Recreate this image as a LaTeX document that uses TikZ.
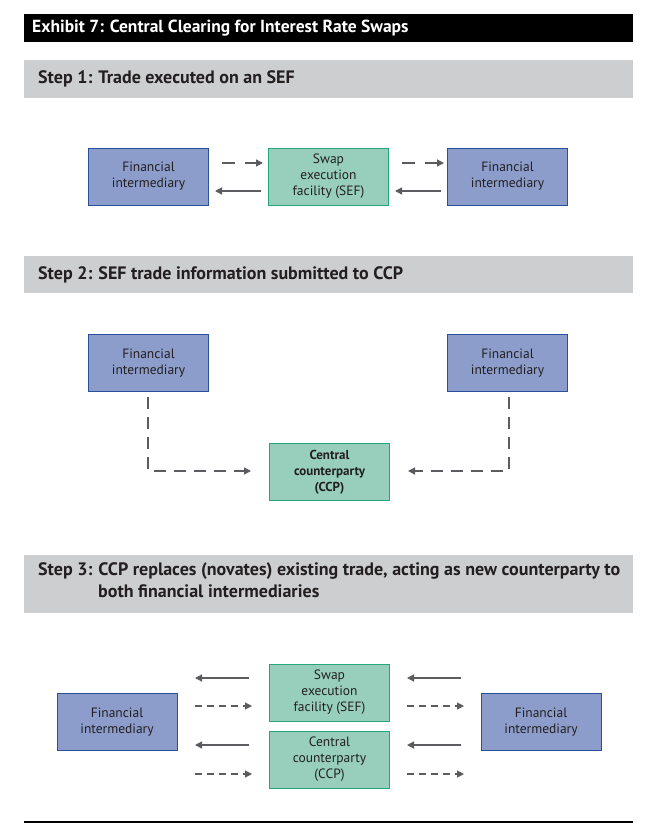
\documentclass[tikz,border=0pt]{standalone}
\usepackage{fontspec}
\setmainfont{PT Sans}
\usetikzlibrary{arrows.meta}
\definecolor{fiFill}{HTML}{8C9DCB}
\definecolor{fiLine}{HTML}{2C4F9C}
\definecolor{gFill}{HTML}{97CFBC}
\definecolor{gLine}{HTML}{27A57B}
\definecolor{barGray}{HTML}{CDCECF}
\definecolor{arrGray}{HTML}{5B5C5F}
\definecolor{txt}{HTML}{231F20}
\begin{document}
\begin{tikzpicture}[x=1pt,y=-1pt,
  fibox/.style={draw=fiLine, fill=fiFill, line width=1pt, minimum width=120pt, minimum height=57pt, align=center, inner sep=0pt, text=txt, font=\fontsize{13.5}{16}\selectfont},
  gbox/.style={fibox, draw=gLine, fill=gFill},
  solidarr/.style={draw=arrGray, line width=1.3pt, -{Triangle[length=7pt,width=7pt]}},
  dasharr/.style={solidarr, dash pattern=on 13pt off 10pt},
  vdash/.style={solidarr, dash pattern=on 12pt off 8pt},
  shortdash/.style={solidarr, dash pattern=on 7pt off 5pt},
  bartext/.style={anchor=west, inner sep=0pt, text=txt, font=\bfseries\fontsize{18}{22}\selectfont, align=left},
]
\useasboundingbox (0,0) rectangle (664,838);
% header
\fill[black] (24,14) rectangle (633,42);
\node[anchor=west, inner sep=0pt, text=white, font=\bfseries\fontsize{17.5}{20}\selectfont] (hdr) at (32,28) {Exhibit 7: Central Clearing for Interest Rate Swaps};

% step 1
\fill[barGray] (24,60) rectangle (633,98);
\node[bartext] (t1) at (38,79) {Step 1: Trade executed on an SEF};
\node[fibox] (fi1L) at (148.5,176.5) {Financial\\intermediary};
\node[gbox] (sef1) at (328.5,176.5) {Swap\\execution\\facility (SEF)};
\node[fibox] (fi1R) at (507.5,176.5) {Financial\\intermediary};
\coordinate (a1) at (222,163); \coordinate (a2) at (263,163);
\coordinate (a3) at (261,191); \coordinate (a4) at (215,191);
\coordinate (a5) at (402,163); \coordinate (a6) at (444,163);
\coordinate (a7) at (441,191); \coordinate (a8) at (395,191);
\draw[dasharr] (a1) -- (a2);
\draw[solidarr] (a3) -- (a4);
\draw[dasharr] (a5) -- (a6);
\draw[solidarr] (a7) -- (a8);

% step 2
\fill[barGray] (24,256) rectangle (633,293);
\node[bartext] (t2) at (38,274.5) {Step 2: SEF trade information submitted to CCP};
\node[fibox] (fi2L) at (148.5,363) {Financial\\intermediary};
\node[fibox] (fi2R) at (507.5,363) {Financial\\intermediary};
\node[gbox, font=\bfseries\fontsize{13}{16}\selectfont] (ccp2) at (329.5,472) {Central\\counterparty\\(CCP)};
\coordinate (b1) at (148,397); \coordinate (b2) at (251,471);
\coordinate (b3) at (509,397); \coordinate (b4) at (408,471);
\draw[vdash] (b1) |- (b2);
\draw[vdash] (b3) |- (b4);

% step 3
\fill[barGray] (24,555) rectangle (633,613);
\node[bartext, anchor=north west] (t3) at (38,562) {Step 3: CCP replaces (novates) existing trade, acting as new counterparty to\\\hspace*{60pt}both financial intermediaries};
\node[gbox] (sef3) at (329.5,692.5) {Swap\\execution\\facility (SEF)};
\node[gbox] (ccp3) at (329.5,759.5) {Central\\counterparty\\(CCP)};
\node[fibox] (fi3L) at (117,722) {Financial\\intermediary};
\node[fibox] (fi3R) at (541,722) {Financial\\intermediary};
\coordinate (c1) at (249,678); \coordinate (c2) at (195,678);
\coordinate (c3) at (195,706); \coordinate (c4) at (252,706);
\coordinate (c5) at (249,745); \coordinate (c6) at (195,745);
\coordinate (c7) at (195,774); \coordinate (c8) at (252,774);
\draw[solidarr] (c1) -- (c2);
\draw[shortdash] (c3) -- (c4);
\draw[solidarr] (c5) -- (c6);
\draw[shortdash] (c7) -- (c8);
\coordinate (d1) at (461,678); \coordinate (d2) at (407,678);
\coordinate (d3) at (407,706); \coordinate (d4) at (464,706);
\coordinate (d5) at (461,745); \coordinate (d6) at (407,745);
\coordinate (d7) at (407,774); \coordinate (d8) at (464,774);
\draw[solidarr] (d1) -- (d2);
\draw[shortdash] (d3) -- (d4);
\draw[solidarr] (d5) -- (d6);
\draw[shortdash] (d7) -- (d8);

% bottom rule
\draw[black, line width=1.5pt] (24,822) -- (633,822);
\end{tikzpicture}
\end{document}
